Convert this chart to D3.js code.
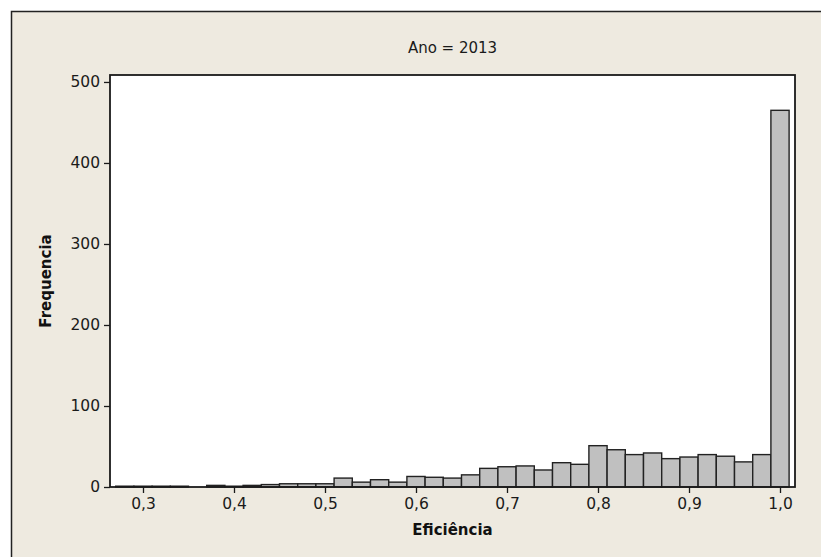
<!DOCTYPE html>
<html>
<head>
<meta charset="utf-8">
<script src="https://cdn.jsdelivr.net/npm/d3@7"></script>
<style>
  body { margin: 0; background: #ffffff; }
  svg { display: block; font-family: "DejaVu Sans", Verdana, sans-serif; }
</style>
</head>
<body>
<svg id="chart" width="821" height="557"></svg>
<script>
  // bin midpoints and counts
  var binMids = [0.28, 0.30, 0.32, 0.34, 0.36, 0.38, 0.40, 0.42, 0.44, 0.46, 0.48, 0.50,
                 0.52, 0.54, 0.56, 0.58, 0.60, 0.62, 0.64, 0.66, 0.68, 0.70, 0.72, 0.74,
                 0.76, 0.78, 0.80, 0.82, 0.84, 0.86, 0.88, 0.90, 0.92, 0.94, 0.96, 0.98, 1.00];
  var counts  = [1, 1, 1, 1, 0, 2, 1, 2, 3, 4, 4, 4,
                 11, 6, 9, 6, 13, 12, 11, 15, 23, 25, 26, 21,
                 30, 28, 51, 46, 40, 42, 35, 37, 40, 38, 31, 40, 465];
  var binWidth = 0.02;
  var xTicks = [0.3, 0.4, 0.5, 0.6, 0.7, 0.8, 0.9, 1.0];
  var yTicks = [0, 100, 200, 300, 400, 500];
  var title = "Ano = 2013";

  var plot = {left: 110, top: 75, right: 795, bottom: 487};

  var svg = d3.select("#chart");

  // beige panel, only its top and left edges fall inside the picture
  svg.append("rect")
    .attr("x", 11.5).attr("y", 11.5)
    .attr("width", 840).attr("height", 570)
    .attr("fill", "#eeeae0")
    .attr("stroke", "#222").attr("stroke-width", 1.5);

  var x = d3.scaleLinear()
    .domain([0.26374, 1.01648])
    .range([plot.left, plot.right]);

  var y = d3.scaleLinear()
    .domain([0, 508.6])
    .range([plot.bottom, plot.top]);

  svg.append("rect")
    .attr("x", plot.left).attr("y", plot.top)
    .attr("width", plot.right - plot.left)
    .attr("height", plot.bottom - plot.top)
    .attr("fill", "#ffffff");

  var data = binMids.map(function(m, i) { return {mid: m, n: counts[i]}; });

  svg.append("g").selectAll("rect")
    .data(data)
    .join("rect")
      .attr("x", function(d) { return x(d.mid - binWidth / 2); })
      .attr("width", function(d) { return x(d.mid + binWidth / 2) - x(d.mid - binWidth / 2); })
      .attr("y", function(d) { return y(d.n); })
      .attr("height", function(d) { return y(0) - y(d.n); })
      .attr("fill", "#c0c0c0")
      .attr("stroke", "#222")
      .attr("stroke-width", 1.4);

  // plot frame
  svg.append("rect")
    .attr("x", plot.left).attr("y", plot.top)
    .attr("width", plot.right - plot.left)
    .attr("height", plot.bottom - plot.top)
    .attr("fill", "none")
    .attr("stroke", "#1a1a1a")
    .attr("stroke-width", 1.8);

  var fmt = function(d) { return d3.format(".1f")(d).replace(".", ","); };

  var xAxis = svg.append("g")
    .attr("transform", "translate(0," + plot.bottom + ")")
    .call(d3.axisBottom(x).tickValues(xTicks).tickFormat(fmt).tickSize(6).tickPadding(5));

  var yAxis = svg.append("g")
    .attr("transform", "translate(" + plot.left + ",0)")
    .call(d3.axisLeft(y).tickValues(yTicks).tickSize(6).tickPadding(4));

  [xAxis, yAxis].forEach(function(a) {
    a.select(".domain").remove();
    a.selectAll(".tick line").attr("stroke", "#1a1a1a").attr("stroke-width", 1.3);
    a.selectAll(".tick text")
      .attr("fill", "#1a1a1a")
      .style("font-family", "'DejaVu Sans', Verdana, sans-serif")
      .style("font-size", "15.5px");
  });

  svg.append("text")
    .attr("x", (plot.left + plot.right) / 2).attr("y", 53)
    .attr("text-anchor", "middle")
    .attr("fill", "#1a1a1a")
    .style("font-size", "15px")
    .text(title);

  svg.append("text")
    .attr("x", (plot.left + plot.right) / 2).attr("y", 535)
    .attr("text-anchor", "middle")
    .attr("fill", "#111")
    .style("font-size", "15px")
    .style("font-weight", "bold")
    .text("Eficiência");

  svg.append("text")
    .attr("transform", "translate(51," + ((plot.top + plot.bottom) / 2) + ") rotate(-90)")
    .attr("text-anchor", "middle")
    .attr("fill", "#111")
    .style("font-size", "15px")
    .style("font-weight", "bold")
    .text("Frequencia");
</script>
</body>
</html>
